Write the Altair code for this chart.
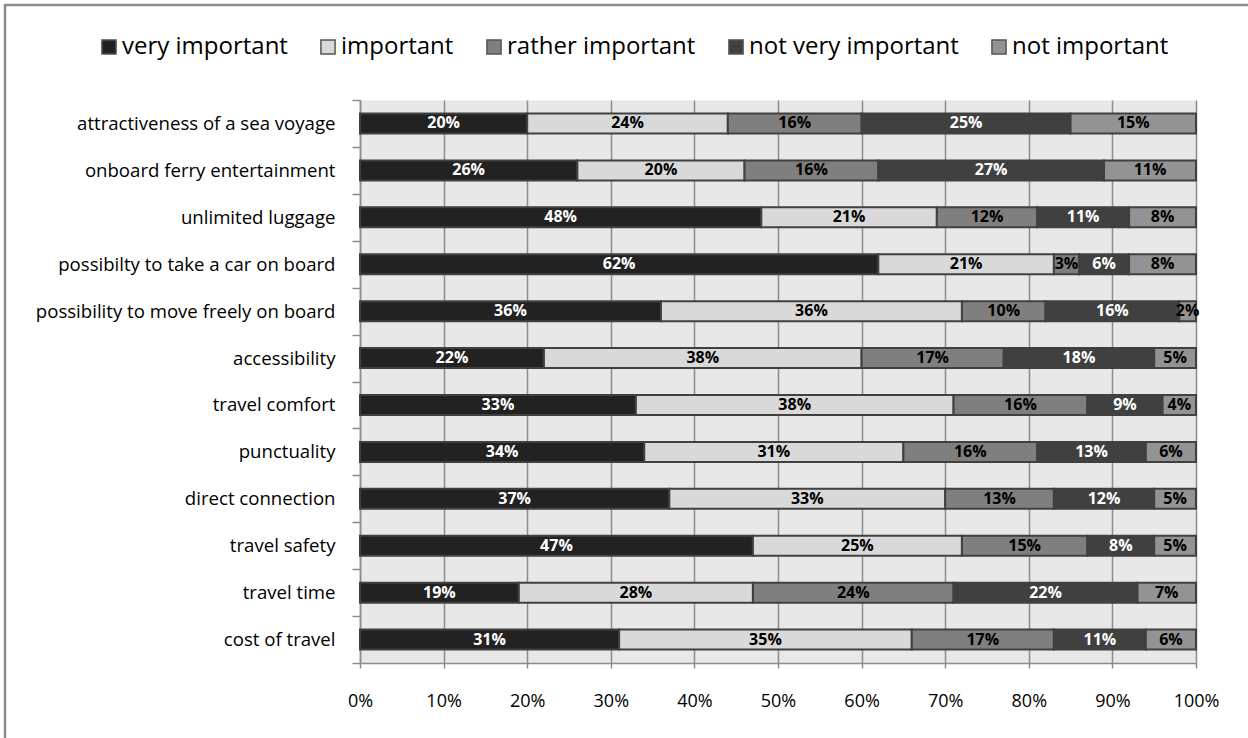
import altair as alt
import pandas as pd

# Survey items, top to bottom (trailing non-breaking spaces kept as in the labels)
items = [
    "attractiveness of a sea voyage",
    "onboard ferry entertainment",
    "unlimited luggage",
    "possibilty to take a car on board\u00a0",
    "possibility to move freely on board",
    "accessibility",
    "travel comfort",
    "punctuality",
    "direct connection",
    "travel safety",
    "travel time\u00a0",
    "cost of travel",
]
levels = ["very important", "important", "rather important",
          "not very important", "not important"]

# Shares of answers (%) per item, one list per answer level
very_important     = [20, 26, 48, 62, 36, 22, 33, 34, 37, 47, 19, 31]
important          = [24, 20, 21, 21, 36, 38, 38, 31, 33, 25, 28, 35]
rather_important   = [16, 16, 12,  3, 10, 17, 16, 16, 13, 15, 24, 17]
not_very_important = [25, 27, 11,  6, 16, 18,  9, 13, 12,  8, 22, 11]
not_important      = [15, 11,  8,  8,  2,  5,  4,  6,  5,  5,  7,  6]

x_ticks = [0, 10, 20, 30, 40, 50, 60, 70, 80, 90, 100]
colors = ["#222222", "#d9d9d9", "#7f7f7f", "#404040", "#939393"]

series = [very_important, important, rather_important, not_very_important, not_important]
rows = []
for li, (level, vals) in enumerate(zip(levels, series)):
    for item, v in zip(items, vals):
        rows.append({"item": item, "level": level, "idx": li, "value": v, "label": f"{v}%"})
df = pd.DataFrame(rows)

FONT = "Open Sans"

base = alt.Chart(df).transform_stack(
    stack="value",
    groupby=["item"],
    sort=[alt.SortField("idx")],
    as_=["x0", "x1"],
)

y_enc = alt.Y(
    "item:N",
    sort=items,
    scale=alt.Scale(paddingInner=0, paddingOuter=0),
    axis=alt.Axis(
        title=None, tickBand="extent", grid=False,
        domainColor="#8c8c8c", domainWidth=1.5,
        tickColor="#8c8c8c", tickWidth=1.5, tickSize=8,
        labelPadding=17, labelFont=FONT, labelFontSize=18.6,
        labelColor="#000000", labelLimit=400,
    ),
)

bars = base.mark_bar(size=20, stroke="#404040", strokeWidth=2).encode(
    y=y_enc,
    x=alt.X(
        "x0:Q",
        scale=alt.Scale(domain=[0, 100], nice=False),
        axis=alt.Axis(
            title=None, values=x_ticks, labelExpr="datum.value + '%'",
            grid=True, gridColor="#8c8c8c", gridWidth=1.5,
            domainColor="#8c8c8c", domainWidth=1.5,
            tickColor="#8c8c8c", tickWidth=1.5, tickSize=5,
            labelPadding=24, labelFlush=False, labelFont=FONT, labelFontSize=18,
            labelColor="#000000",
        ),
    ),
    x2="x1:Q",
    color=alt.Color(
        "level:N",
        scale=alt.Scale(domain=levels, range=colors),
        legend=alt.Legend(
            orient="none", legendX=-263, legendY=-65,
            direction="horizontal", columns=5, title=None,
            symbolType="square", symbolSize=200,
            symbolStrokeColor="#555555", symbolStrokeWidth=1.5,
            symbolOpacity=1,
            labelFont=FONT, labelFontSize=24, labelColor="#000000",
            labelLimit=400, labelOffset=1, columnPadding=28, padding=0,
        ),
    ),
)

labels = base.transform_calculate(mid="(datum.x0 + datum.x1) / 2").mark_text(
    font=FONT, fontSize=16, fontWeight="bold"
).encode(
    y=alt.Y("item:N", sort=items),
    x=alt.X("mid:Q"),
    text="label:N",
    color=alt.condition("datum.idx == 0 || datum.idx == 3",
                        alt.value("#ffffff"), alt.value("#000000")),
)

# Outer frame lines (top and left edges of the figure)
frame_df = pd.DataFrame({"k": [0]})
frame_top = alt.Chart(frame_df).mark_rule(color="#8c8c8c", strokeWidth=2.5).encode(
    x=alt.value(-356), x2=alt.value(900), y=alt.value(-95)
)
frame_left = alt.Chart(frame_df).mark_rule(color="#8c8c8c", strokeWidth=2.5).encode(
    x=alt.value(-355), y=alt.value(-96), y2=alt.value(700)
)

chart = alt.layer(bars, labels, frame_top, frame_left).properties(
    width=836,
    height=563,
    autosize=alt.AutoSizeParams(type="none"),
    padding={"left": 360, "top": 100, "right": 52, "bottom": 75},
    background="#ffffff",
).configure_view(
    fill="#e8e8e8", stroke="transparent"
)

chart.save("out.html", embed_options={"renderer": "svg", "actions": False})
